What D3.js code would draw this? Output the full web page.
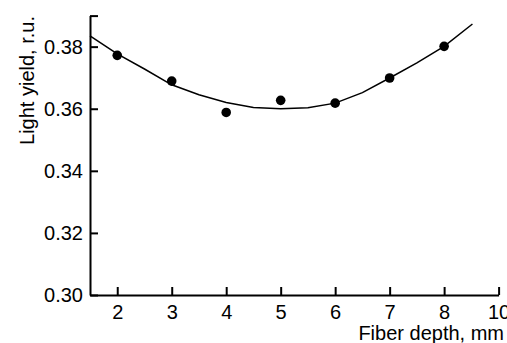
<!DOCTYPE html>
<html>
<head>
<meta charset="utf-8">
<script src="https://cdn.jsdelivr.net/npm/d3@7"></script>
<style>
  body { margin: 0; background: #fff; }
  svg { display: block; font-family: "Liberation Sans", Arial, sans-serif; }
</style>
</head>
<body>
<svg width="507" height="343"></svg>
<script>
// measured points
const depth = [2, 3, 4, 5, 6, 7, 8];
const yieldVals = [0.3772, 0.3689, 0.3588, 0.3627, 0.3618, 0.3699, 0.3801];

// fitted curve
const fitX = [1.5, 2, 2.5, 3, 3.5, 4, 4.5, 5, 5.5, 6, 6.5, 7, 7.5, 8, 8.52];
const fitY = [0.3835, 0.3777, 0.3728, 0.3677, 0.3645, 0.3620, 0.3604, 0.3600, 0.3603, 0.3618, 0.3652, 0.3699, 0.3748, 0.3801, 0.3873];

const xTicks = [2, 3, 4, 5, 6, 7, 8, 9];
const xTickLabels = ['2', '3', '4', '5', '6', '7', '8', '10'];
const yTicks = [0.30, 0.32, 0.34, 0.36, 0.38, 0.39];
const yTickLabels = ['0.30', '0.32', '0.34', '0.36', '0.38', ''];

const svg = d3.select('svg');

const x = d3.scaleLinear().domain([1.5, 9]).range([90, 498.6]);
const y = d3.scaleLinear().domain([0.30, 0.39]).range([295, 15.6]);

const xAxis = d3.axisBottom(x)
  .tickValues(xTicks)
  .tickFormat((d, i) => xTickLabels[i])
  .tickSizeInner(-8).tickSizeOuter(0).tickPadding(10);

const yAxis = d3.axisLeft(y)
  .tickValues(yTicks)
  .tickFormat((d, i) => yTickLabels[i])
  .tickSizeInner(-8).tickSizeOuter(0).tickPadding(7);

const gx = svg.append('g')
  .attr('transform', 'translate(0,295)')
  .call(xAxis);

const gy = svg.append('g')
  .attr('transform', 'translate(90,0)')
  .call(yAxis);

[gx, gy].forEach(g => {
  g.selectAll('path, line').attr('stroke', '#000').attr('stroke-width', 2);
  g.selectAll('text').attr('fill', '#000').style('font-size', '20px');
});

// curve
const line = d3.line()
  .x(d => x(d[0]))
  .y(d => y(d[1]));

svg.append('path')
  .datum(d3.zip(fitX, fitY))
  .attr('d', line)
  .attr('fill', 'none')
  .attr('stroke', '#000')
  .attr('stroke-width', 1.5);

// dots
svg.append('g')
  .selectAll('circle')
  .data(d3.zip(depth, yieldVals))
  .join('circle')
  .attr('cx', d => x(d[0]))
  .attr('cy', d => y(d[1]))
  .attr('r', 4.8)
  .attr('fill', '#000');

// axis titles
svg.append('text')
  .attr('x', 504)
  .attr('y', 340)
  .attr('text-anchor', 'end')
  .style('font-size', '20px')
  .text('Fiber depth, mm');

svg.append('text')
  .attr('transform', 'translate(33.5,80.5) rotate(-90)')
  .attr('text-anchor', 'middle')
  .style('font-size', '20px')
  .text('Light yield, r.u.');
</script>
</body>
</html>
